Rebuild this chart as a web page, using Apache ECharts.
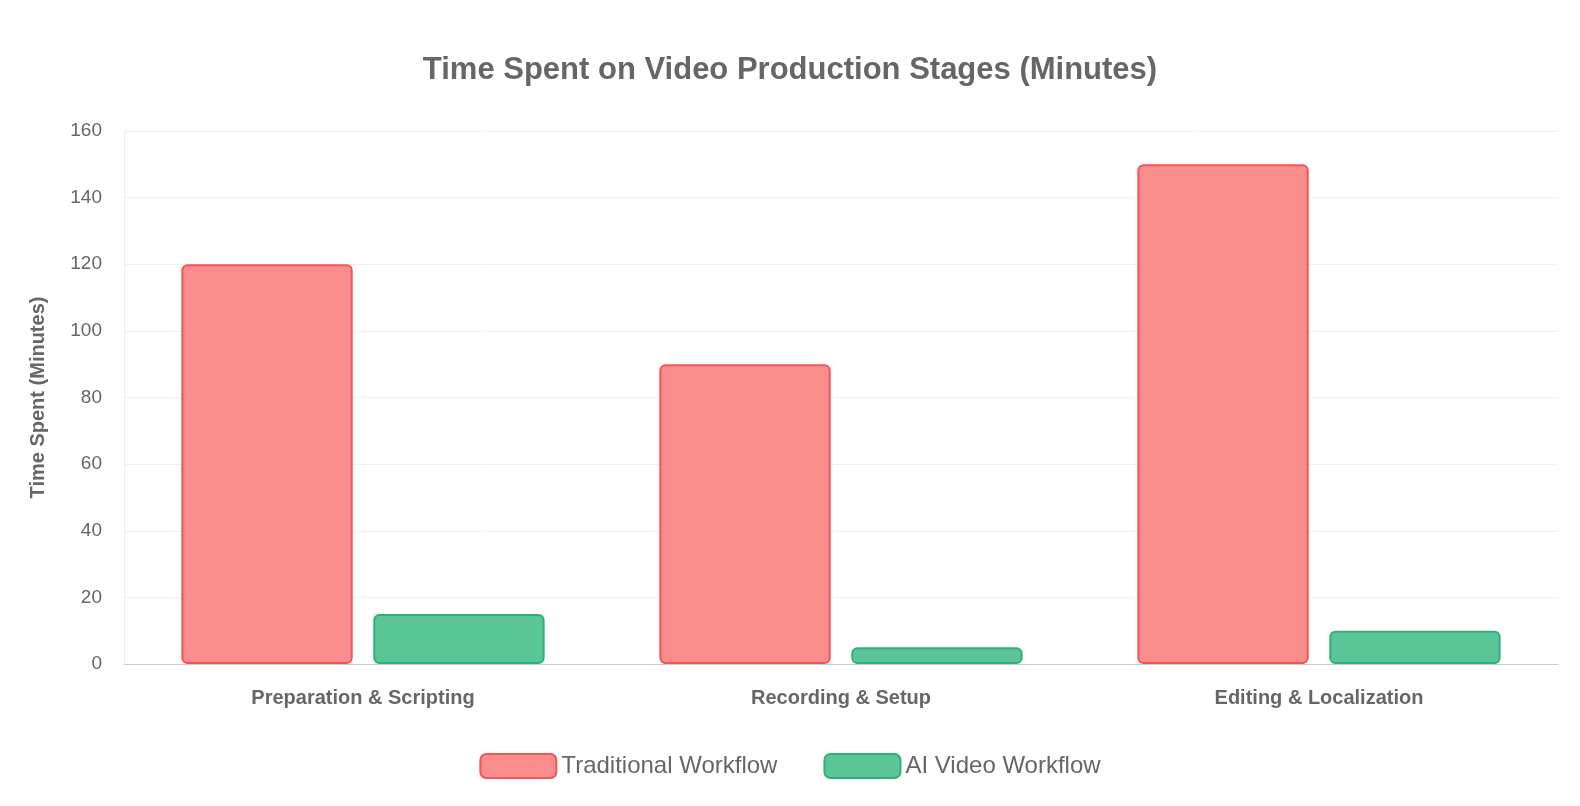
<!DOCTYPE html>
<html><head><meta charset="utf-8">
<script src="https://cdn.jsdelivr.net/npm/echarts@6/dist/echarts.min.js"></script>
<style>html,body{margin:0;padding:0;background:#fff}#c{width:1580px;height:806px}</style>
</head><body><div id="c"></div>
<script>
const categories = ["Preparation & Scripting", "Recording & Setup", "Editing & Localization"];
const traditional = [120, 90, 150];
const aiVideo = [15, 5, 10];
const chart = echarts.init(document.getElementById('c'));
chart.setOption({
  animation: false,
  title: { text: 'Time Spent on Video Production Stages (Minutes)', left: 'center', top: 50,
    textStyle: { fontFamily: 'Helvetica, Arial, sans-serif', fontSize: 31, fontWeight: 'bold', color: '#666' } },
  legend: { bottom: 22, itemWidth: 76, itemHeight: 24, itemGap: 46,
    textStyle: { fontSize: 24, color: '#666', fontFamily: 'Helvetica, Arial, sans-serif' } },
  grid: { left: 124, right: 22, top: 131, bottom: 142 },
  xAxis: { type: 'category', data: categories,
    axisLine: { lineStyle: { color: '#ccc' } }, axisTick: { show: false },
    axisLabel: { fontSize: 20, fontWeight: 'bold', color: '#666', margin: 24, fontFamily: 'Helvetica, Arial, sans-serif' } },
  yAxis: { type: 'value', min: 0, max: 160, interval: 20,
    name: 'Time Spent (Minutes)', nameLocation: 'middle', nameGap: 76,
    nameTextStyle: { fontSize: 20, fontWeight: 'bold', color: '#666', fontFamily: 'Helvetica, Arial, sans-serif' },
    axisLine: { show: true, lineStyle: { color: '#eee' } },
    splitLine: { lineStyle: { color: '#f0f0f0' } },
    axisLabel: { fontSize: 19, color: '#666', margin: 22, fontFamily: 'Helvetica, Arial, sans-serif' } },
  series: [
    { name: 'Traditional Workflow', type: 'bar', data: traditional, barCategoryGap: '24%', barGap: '12%',
      itemStyle: { color: 'rgba(250,128,128,0.9)', borderColor: '#f05555', borderWidth: 2, borderRadius: 5 } },
    { name: 'AI Video Workflow', type: 'bar', data: aiVideo,
      itemStyle: { color: 'rgba(72,192,140,0.9)', borderColor: '#2fb07a', borderWidth: 2, borderRadius: 5 } }
  ]
});
</script></body></html>
